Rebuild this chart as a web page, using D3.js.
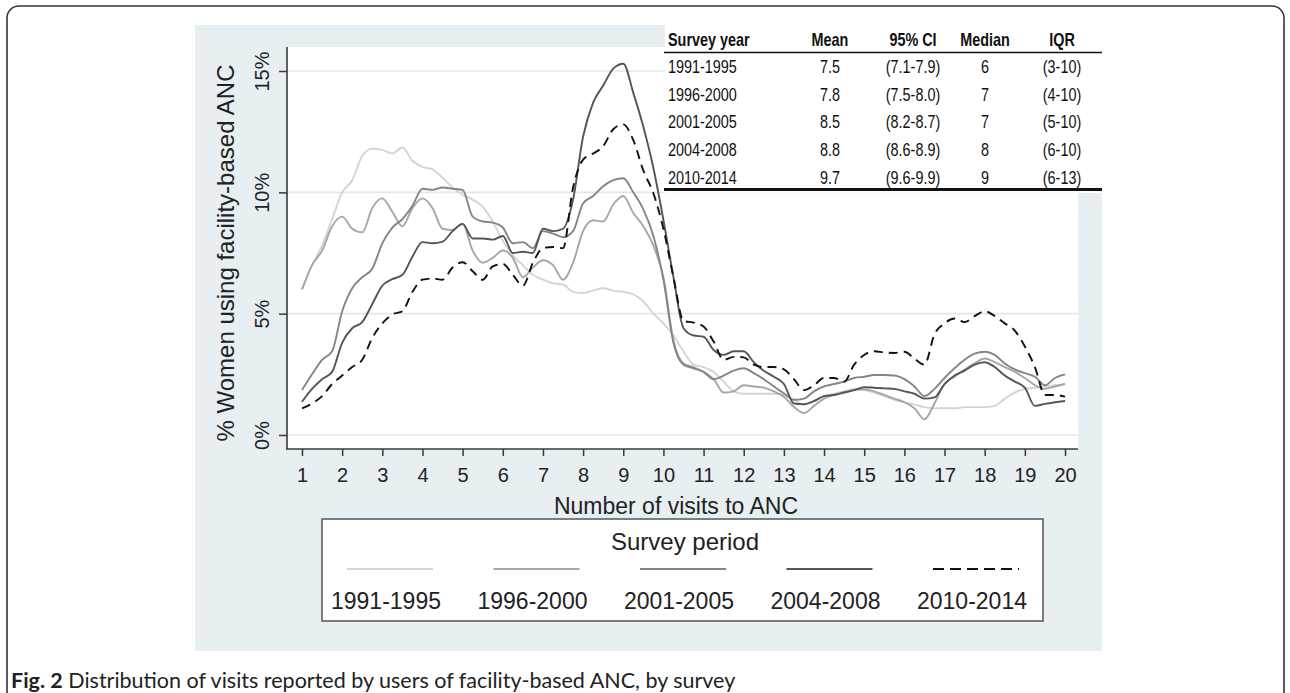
<!DOCTYPE html>
<html><head><meta charset="utf-8">
<script src="https://cdn.jsdelivr.net/npm/d3@7/dist/d3.min.js"></script>
<style>body{margin:0;background:#fff;} svg{display:block;}</style>
</head><body>
<svg id="chart" width="1290" height="693"></svg>
<script>
// ---- data ----
const visits = [1,1.25,1.5,1.75, 2,2.25,2.5,2.75, 3,3.25,3.5,3.75, 4,4.25,4.5,4.75, 5,5.25,5.5,5.75,
  6,6.25,6.5,6.75, 7,7.25,7.5,7.75, 8,8.25,8.5,8.75, 9,9.25,9.5,9.75, 10,10.25,10.5,10.75,
  11,11.25,11.5,11.75, 12,12.25,12.5,12.75, 13,13.25,13.5,13.75, 14,14.25,14.5,14.75,
  15,15.25,15.5,15.75, 16,16.25,16.5,16.75, 17,17.25,17.5,17.75, 18,18.25,18.5,18.75,
  19,19.25,19.5,19.75, 20];

const s1991 = [6.0,7.0,7.8,8.9, 10.0,10.5,11.5,11.8, 11.75,11.6,11.85,11.3, 11.05,10.95,10.6,10.2, 9.9,9.7,9.4,8.8,
  8.0,7.4,7.0,6.6, 6.4,6.25,6.2,5.9, 5.85,5.95,6.05,5.95, 5.9,5.8,5.5,5.0, 4.6,4.1,3.45,2.9,
  2.8,2.6,2.2,1.8, 1.7,1.7,1.7,1.7, 1.65,1.45,1.25,1.4, 1.6,1.7,1.8,1.9,
  1.85,1.75,1.6,1.45, 1.35,1.25,1.15,1.1, 1.1,1.1,1.15,1.15, 1.15,1.2,1.5,1.75,
  1.9,1.95,2.0,2.05, 2.1];
const s1996 = [6.0,7.0,7.6,8.6, 9.0,8.5,8.35,9.35, 9.75,9.2,8.6,9.35, 9.75,9.35,8.5,8.45, 8.7,7.6,7.1,7.3,
  7.6,7.3,6.5,6.9, 7.2,7.0,6.4,7.1, 8.4,8.85,8.8,9.5, 9.85,9.15,8.6,7.8, 6.5,3.9,2.95,2.8,
  2.6,2.3,1.75,1.8, 2.05,2.0,1.95,1.8, 1.58,1.15,0.9,1.2, 1.5,1.65,1.75,1.85,
  1.88,1.8,1.65,1.5, 1.35,1.1,0.65,1.3, 2.1,2.4,2.7,2.95, 3.15,3.0,2.8,2.6,
  2.35,2.05,1.9,2.0, 2.1];
const s2001 = [1.85,2.5,3.1,3.45, 5.1,6.05,6.5,6.85, 7.9,8.55,8.9,9.45, 10.15,10.1,10.2,10.15, 10.1,9.0,8.8,8.75,
  8.55,7.9,7.95,7.7, 8.4,8.3,8.15,8.4, 9.55,9.85,10.25,10.5, 10.58,10.0,9.3,8.2, 6.4,3.8,2.9,2.75,
  2.6,2.3,2.45,2.65, 2.75,2.55,2.3,2.0, 1.72,1.45,1.5,1.8, 2.0,2.1,2.2,2.35,
  2.4,2.47,2.47,2.45, 2.3,2.0,1.6,1.9, 2.35,2.75,3.1,3.35, 3.43,3.3,2.95,2.7,
  2.55,2.4,2.05,2.35, 2.5];
const s2004 = [1.37,1.9,2.3,2.6, 3.8,4.4,4.65,5.4, 6.15,6.42,6.6,7.35, 7.95,7.9,7.97,8.4, 8.7,8.1,8.1,8.05,
  8.2,7.5,7.55,7.5, 8.5,8.4,8.5,9.7, 12.3,13.7,14.4,15.1, 15.3,14.1,12.7,11.0, 8.86,6.5,4.4,4.1,
  4.05,3.5,3.3,3.45, 3.45,3.0,2.65,2.4, 2.1,1.3,1.27,1.4, 1.6,1.65,1.75,1.85,
  1.97,1.95,1.92,1.9, 1.8,1.7,1.5,1.55, 2.1,2.45,2.65,2.9, 3.0,2.8,2.45,2.2,
  1.95,1.2,1.28,1.35, 1.4];
const s2010 = [1.1,1.3,1.6,2.1, 2.45,2.8,3.1,4.0, 4.6,4.97,5.1,5.9, 6.4,6.45,6.4,6.9, 7.12,6.75,6.4,6.95,
  7.05,6.6,6.15,7.1, 7.7,7.75,7.7,10.2, 11.35,11.6,11.9,12.6, 12.8,12.15,10.9,9.96, 8.5,6.5,4.7,4.63,
  4.47,3.85,3.1,3.22, 3.2,2.9,2.8,2.8, 2.7,2.3,1.85,2.05, 2.35,2.35,2.2,2.9,
  3.3,3.45,3.4,3.38, 3.43,3.15,2.9,4.15, 4.6,4.8,4.65,4.9, 5.1,4.9,4.6,4.3,
  3.65,2.8,1.65,1.65, 1.58];

const seriesNames = ["1991-1995","1996-2000","2001-2005","2004-2008","2010-2014"];
const seriesValues = [s1991, s1996, s2001, s2004, s2010];
const xTicks = [1,2,3,4,5,6,7,8,9,10,11,12,13,14,15,16,17,18,19,20];
const yTicks = [0,5,10,15];
const yTickLabels = ["0%","5%","10%","15%"];

const tableHeader = ["Survey year","Mean","95% CI","Median","IQR"];
const tableYears = ["1991-1995","1996-2000","2001-2005","2004-2008","2010-2014"];
const tableMean = ["7.5","7.8","8.5","8.8","9.7"];
const tableCI = ["(7.1-7.9)","(7.5-8.0)","(8.2-8.7)","(8.6-8.9)","(9.6-9.9)"];
const tableMedian = ["6","7","7","8","9"];
const tableIQR = ["(3-10)","(4-10)","(5-10)","(6-10)","(6-13)"];

// ---- styles ----
const colors = ["#d4d4d4","#a6a6a6","#858585","#555555","#111111"];
const dashes = [null,null,null,null,"9,6"];
const BG = "#e8eff3", GRID = "#dde8ef";
const FONT = "'Liberation Sans', Arial, sans-serif";

const svg = d3.select("#chart");

// outer frame
svg.append("rect").attr("x",7).attr("y",6).attr("width",1277).attr("height",740)
  .attr("rx",12).attr("fill","#fff").attr("stroke","#333").attr("stroke-width",1.6);

// graph region
svg.append("rect").attr("x",195).attr("y",25).attr("width",907).attr("height",626).attr("fill",BG);
// plot region
svg.append("rect").attr("x",287).attr("y",47).attr("width",791).attr("height",402).attr("fill","#fff");

const x = d3.scaleLinear().domain([1,20]).range([302,1065]);
const y = d3.scaleLinear().domain([0,15]).range([435,71]);

// grid lines
svg.append("g").selectAll("line").data(yTicks).join("line")
  .attr("x1",287).attr("x2",1078).attr("y1",d=>y(d)).attr("y2",d=>y(d))
  .attr("stroke",GRID).attr("stroke-width",1.6);

// lines
const line = d3.line().x((d,i)=>x(visits[i])).y(d=>y(d)).curve(d3.curveMonotoneX);
svg.append("g").selectAll("path").data(seriesValues).join("path")
  .attr("d",d=>line(d)).attr("fill","none")
  .attr("stroke",(d,i)=>colors[i]).attr("stroke-width",1.9)
  .attr("stroke-dasharray",(d,i)=>dashes[i]).attr("stroke-linejoin","round");

// axes
const axisColor = "#3a3a3a";
svg.append("line").attr("x1",287).attr("x2",287).attr("y1",47).attr("y2",449.5)
  .attr("stroke",axisColor).attr("stroke-width",1.6);
svg.append("line").attr("x1",286.2).attr("x2",1078).attr("y1",449).attr("y2",449)
  .attr("stroke",axisColor).attr("stroke-width",1.6);

const xAxis = svg.append("g").attr("transform","translate(0,449)")
  .call(d3.axisBottom(x).tickValues(xTicks).tickSize(7).tickPadding(12).tickFormat(d3.format("d")));
xAxis.select(".domain").remove();
xAxis.selectAll("line").attr("stroke",axisColor).attr("stroke-width",1.5);
xAxis.selectAll("text").attr("font-family",FONT).attr("font-size",20).attr("fill","#222");

const yAxis = svg.append("g").attr("transform","translate(287,0)")
  .call(d3.axisLeft(y).tickValues(yTicks).tickSize(8).tickFormat((d,i)=>yTickLabels[i]));
yAxis.select(".domain").remove();
yAxis.selectAll("line").attr("stroke",axisColor).attr("stroke-width",1.5);
yAxis.selectAll("text").attr("font-family",FONT).attr("font-size",20).attr("fill","#222")
  .attr("text-anchor","middle").attr("dy",0).attr("x",0)
  .attr("transform","translate(-18,0) rotate(-90)");

// axis titles
svg.append("text").attr("transform","translate(234,253) rotate(-90)")
  .attr("text-anchor","middle").attr("font-family",FONT).attr("font-size",24).attr("fill","#222")
  .text("% Women using facility-based ANC");
svg.append("text").attr("x",676).attr("y",514).attr("text-anchor","middle")
  .attr("font-family",FONT).attr("font-size",23).attr("fill","#222").text("Number of visits to ANC");

// legend
const lg = svg.append("g");
lg.append("rect").attr("x",322).attr("y",519).attr("width",721).attr("height",102)
  .attr("fill","#fff").attr("stroke","#555").attr("stroke-width",1.5);
lg.append("text").attr("x",685).attr("y",550).attr("text-anchor","middle")
  .attr("font-family",FONT).attr("font-size",24).attr("fill","#222").text("Survey period");
const lx = d3.scalePoint().domain(seriesNames).range([390,976]);
lg.selectAll("line.k").data(seriesNames).join("line").attr("class","k")
  .attr("x1",d=>lx(d)-43).attr("x2",d=>lx(d)+43).attr("y1",569).attr("y2",569)
  .attr("stroke",(d,i)=>colors[i]).attr("stroke-width",2.2)
  .attr("stroke-dasharray",(d,i)=>dashes[i] ? "11,6" : null);
lg.selectAll("text.k").data(seriesNames).join("text").attr("class","k")
  .attr("x",d=>lx(d)-4).attr("y",609).attr("text-anchor","middle")
  .attr("font-family",FONT).attr("font-size",23).attr("fill","#222").text(d=>d);

// table (narrow text via horizontal scaling)
const tb = svg.append("g");
tb.append("rect").attr("x",665).attr("y",25).attr("width",437).attr("height",168).attr("fill","#fff");
tb.append("line").attr("x1",664).attr("x2",1102).attr("y1",52.5).attr("y2",52.5).attr("stroke","#111").attr("stroke-width",1.6);
tb.append("line").attr("x1",664).attr("x2",1102).attr("y1",189.5).attr("y2",189.5).attr("stroke","#111").attr("stroke-width",3);
const colX = [668,830,913,985,1062];
const colAnchor = ["start","middle","middle","middle","middle"];
const SX = 0.8;
tb.selectAll("text.h").data(tableHeader).join("text").attr("class","h")
  .attr("transform",(d,i)=>`translate(${colX[i]},46) scale(${SX},1)`).attr("text-anchor",(d,i)=>colAnchor[i])
  .attr("font-family",FONT).attr("font-size",18).attr("font-weight","bold").attr("fill","#111").text(d=>d);
const rowY = d3.scaleLinear().domain([0,4]).range([73,183.5]);
const cols = [tableYears, tableMean, tableCI, tableMedian, tableIQR];
cols.forEach((col,ci)=>{
  tb.selectAll("text.c"+ci).data(col).join("text").attr("class","c"+ci)
    .attr("transform",(d,i)=>`translate(${colX[ci]},${rowY(i)}) scale(${SX},1)`).attr("text-anchor",colAnchor[ci])
    .attr("font-family",FONT).attr("font-size",18).attr("fill","#111").text(d=>d);
});

// caption
const cap = svg.append("text").attr("x",11).attr("y",688)
  .attr("font-family","Lato, 'Open Sans', sans-serif").attr("font-size",21.5).attr("fill","#222");
cap.append("tspan").attr("font-weight","bold").text("Fig. 2");
cap.append("tspan").text(" Distribution of visits reported by users of facility-based ANC, by survey");
</script>
</body></html>
